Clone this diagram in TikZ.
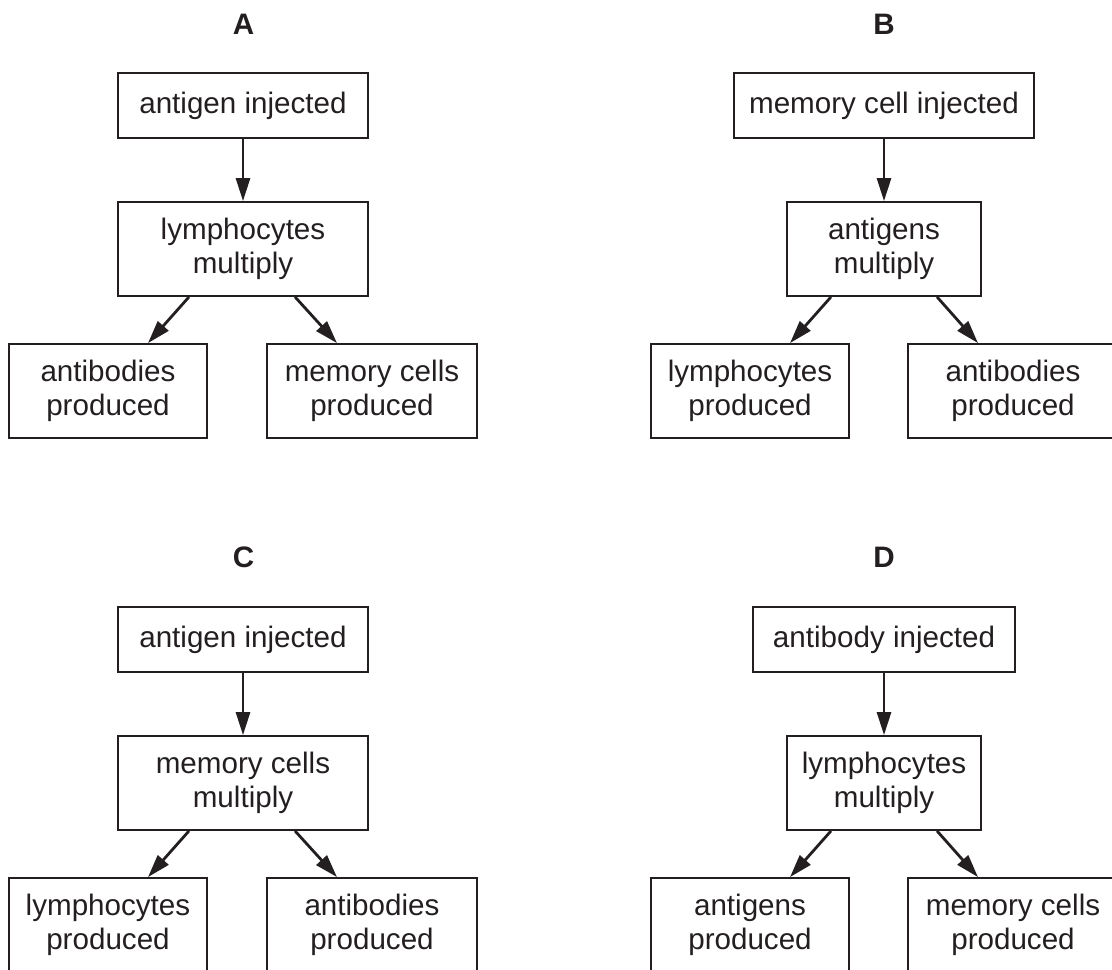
\documentclass[tikz,border=0pt]{standalone}
\usepackage{fontspec}
\setmainfont{Liberation Sans}
\usetikzlibrary{arrows.meta}
\definecolor{ink}{HTML}{231F20}
\tikzset{
  box/.style={draw=ink, line width=0.9pt, text=ink, inner sep=0pt, align=center,
    font=\fontsize{14.8}{17.3}\selectfont},
  topbox/.style={box, minimum height=32.5pt},
  lowbox/.style={box, minimum height=47pt},
  arr/.style={draw=ink, line width=1.4pt, -{Triangle[length=11.5pt,width=7pt]}},
  panel/.style={text=ink, font=\fontsize{14.8}{17.3}\selectfont\bfseries}
}
\begin{document}
\begin{tikzpicture}[x=0.5pt, y=-0.5pt]
\path[use as bounding box] (0,0) rectangle (1112,969);
\clip (0,0) rectangle (1112,969);
% Panel A
\node[panel] (la) at (243.5,24.5) {A};
\node[topbox, minimum width=125pt] (a1) at (243,105.5) {antigen injected};
\node[lowbox, minimum width=125pt] (a2) at (243,249) {lymphocytes\\multiply};
\node[lowbox, minimum width=99pt] (a3) at (108,391) {antibodies\\produced};
\node[lowbox, minimum width=105pt] (a4) at (372,391) {memory cells\\produced};
\draw[arr] (a1.south) -- (a2.north);
\draw[arr] ([xshift=-27pt]a2.south) -- ([xshift=20pt]a3.north);
\draw[arr] ([xshift=26pt]a2.south) -- ([xshift=-17.5pt]a4.north);
% Panel B
\node[panel] (lb) at (884,24.5) {B};
\node[topbox, minimum width=150pt] (b1) at (884,105.5) {memory cell injected};
\node[lowbox, minimum width=97pt] (b2) at (884,249) {antigens\\multiply};
\node[lowbox, minimum width=99pt] (b3) at (750,391) {lymphocytes\\produced};
\node[lowbox, minimum width=105pt] (b4) at (1013,391) {antibodies\\produced};
\draw[arr] (b1.south) -- (b2.north);
\draw[arr] ([xshift=-26.5pt]b2.south) -- ([xshift=20pt]b3.north);
\draw[arr] ([xshift=26.5pt]b2.south) -- ([xshift=-17.5pt]b4.north);
% Panel C
\node[panel] (lc) at (243.5,557) {C};
\node[topbox, minimum width=125pt] (c1) at (243,639.5) {antigen injected};
\node[lowbox, minimum width=125pt] (c2) at (243,783) {memory cells\\multiply};
\node[lowbox, minimum width=99pt] (c3) at (108,925) {lymphocytes\\produced};
\node[lowbox, minimum width=105pt] (c4) at (372,925) {antibodies\\produced};
\draw[arr] (c1.south) -- (c2.north);
\draw[arr] ([xshift=-27pt]c2.south) -- ([xshift=20pt]c3.north);
\draw[arr] ([xshift=26pt]c2.south) -- ([xshift=-17.5pt]c4.north);
% Panel D
\node[panel] (ld) at (884,557) {D};
\node[topbox, minimum width=131pt] (d1) at (884,639.5) {antibody injected};
\node[lowbox, minimum width=97pt] (d2) at (884,783) {lymphocytes\\multiply};
\node[lowbox, minimum width=99pt] (d3) at (750,925) {antigens\\produced};
\node[lowbox, minimum width=105pt] (d4) at (1013,925) {memory cells\\produced};
\draw[arr] (d1.south) -- (d2.north);
\draw[arr] ([xshift=-26.5pt]d2.south) -- ([xshift=20pt]d3.north);
\draw[arr] ([xshift=26.5pt]d2.south) -- ([xshift=-17.5pt]d4.north);
\end{tikzpicture}
\end{document}
